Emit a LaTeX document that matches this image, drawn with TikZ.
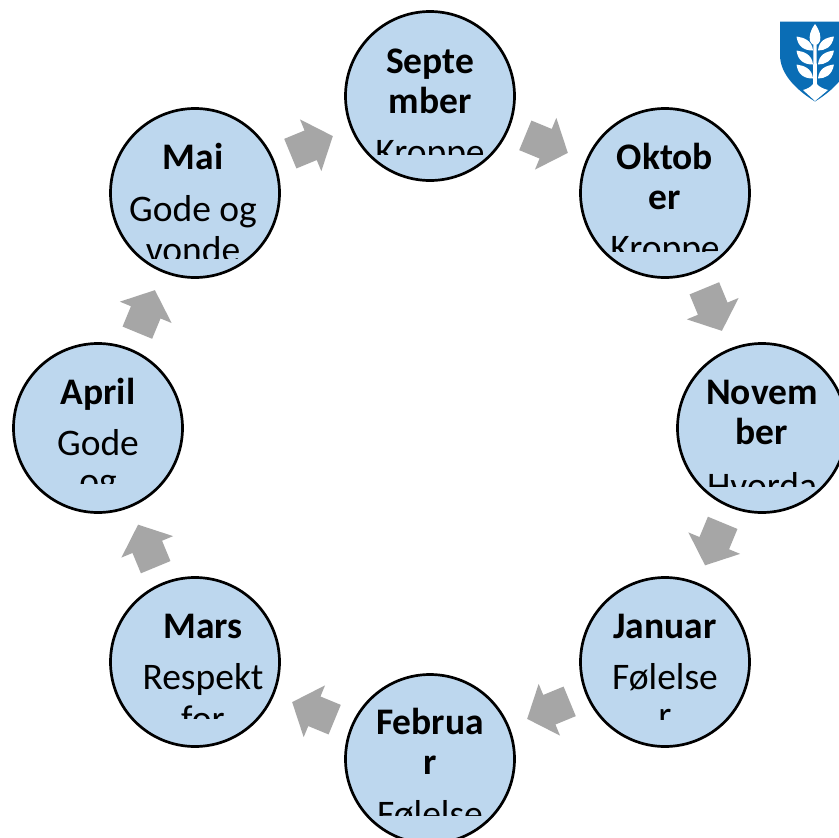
\documentclass[tikz,border=0pt]{standalone}
\usepackage{fontspec}
\setmainfont{Carlito}
\definecolor{circfill}{HTML}{BDD7EE}
\definecolor{arrowgray}{HTML}{A6A6A6}
\definecolor{shieldblue}{HTML}{0A6DB5}
\tikzset{
  month/.style={circle,draw=black,line width=2.7pt,fill=circfill,minimum size=169pt,inner sep=0pt,outer sep=0pt},
  head/.style={anchor=base,inner sep=0pt,font=\fontsize{37.5}{37.5}\selectfont\bfseries},
  body/.style={anchor=base,inner sep=0pt,font=\fontsize{37.5}{37.5}\selectfont},
  flow/.style={sloped,allow upside down,pos=0.5},
  flowarrow/.pic={\fill[arrowgray] (-24,-16) -- (-2,-16) -- (-2,-28) -- (22,0) -- (-2,28) -- (-2,16) -- (-24,16) -- cycle;},
  leaf/.style={fill=white,draw=none}
}
\begin{document}
\begin{tikzpicture}[x=1pt,y=-1pt]
\useasboundingbox (0,0) rectangle (839,838);
\fill[white] (0,0) rectangle (839,838);
% shield
\begin{scope}
\clip (0,0) rectangle (839,838);
\fill[shieldblue] (780,21.5) -- (850,21.5) -- (850,55) .. controls (850,75) and (832,91) .. (815,101.5) .. controls (798,91) and (780,75) .. (780,55) -- cycle;
\fill[leaf] (815,24) .. controls (810,31) and (809,36) .. (810,41) .. controls (811,44) and (813,45) .. (815,45) .. controls (817,45) and (819,44) .. (820,41) .. controls (821,36) and (820,31) .. (815,24) -- cycle;
\fill[leaf] (813.5,44) -- (816.5,44) -- (817,84) .. controls (819,87) and (824,89) .. (828,90) -- (815,101) -- (803,90) .. controls (807,89) and (811,87) .. (813,84) -- cycle;
\foreach \ly in {36.5,50.5,64.5}{
  \fill[leaf] (796.5,\ly) .. controls (804,\ly+1) and (812,\ly+4) .. (813,\ly+14) .. controls (805,\ly+14) and (798,\ly+11) .. (796.5,\ly) -- cycle;
  \fill[leaf] (834,\ly) .. controls (826,\ly+1) and (819,\ly+4) .. (818,\ly+14) .. controls (825,\ly+14) and (832,\ly+11) .. (834,\ly) -- cycle;
}
\end{scope}
% circles
\node[month] (sep) at (430,96) {};
\node[month] (okt) at (665,193) {};
\node[month] (nov) at (762,428) {};
\node[month] (jan) at (665,662) {};
\node[month] (feb) at (430,759) {};
\node[month] (mar) at (195,662) {};
\node[month] (apr) at (98,428) {};
\node[month] (mai) at (195,193) {};
% arrows
\path (sep) -- pic[flow] {flowarrow} (okt);
\path (okt) -- pic[flow] {flowarrow} (nov);
\path (nov) -- pic[flow] {flowarrow} (jan);
\path (jan) -- pic[flow] {flowarrow} (feb);
\path (feb) -- pic[flow] {flowarrow} (mar);
\path (mar) -- pic[flow] {flowarrow} (apr);
\path (apr) -- pic[flow] {flowarrow} (mai);
\path (mai) -- pic[flow] {flowarrow} (sep);
% labels
\begin{scope}
\clip (345,0) rectangle (515,154);
\node[head] (t1a) at (430,73) {Septe};
\node[head] (t1b) at (430,113) {mber};
\node[body] (t1c) at (430,164) {Kroppe};
\end{scope}
\begin{scope}
\clip (580,100) rectangle (750,251);
\node[head] (t2a) at (665,169) {Oktob};
\node[head] (t2b) at (665,209) {er};
\node[body] (t2c) at (665,260) {Kroppe};
\end{scope}
\begin{scope}
\clip (677,340) rectangle (839,486);
\node[head] (t3a) at (762,404) {Novem};
\node[head] (t3b) at (762,444) {ber};
\node[body] (t3c) at (762,498) {Hvorda};
\end{scope}
\begin{scope}
\clip (580,580) rectangle (750,719);
\node[head] (t4a) at (665,638) {Januar};
\node[body] (t4b) at (665,689) {Følelse};
\node[body] (t4c) at (665,727) {r};
\end{scope}
\begin{scope}
\clip (345,680) rectangle (515,815);
\node[head] (t5a) at (430,734) {Februa};
\node[head] (t5b) at (430,774) {r};
\node[body] (t5c) at (430,826) {Følelse};
\end{scope}
\begin{scope}
\clip (110,580) rectangle (280,718);
\node[head] (t6a) at (203,638) {Mars};
\node[body] (t6b) at (203,689) {Respekt};
\node[body] (t6c) at (203,731) {for};
\end{scope}
\begin{scope}
\clip (13,340) rectangle (183,483);
\node[head] (t7a) at (98,404) {April};
\node[body] (t7b) at (98,455) {Gode};
\node[body] (t7c) at (98,493) {og};
\end{scope}
\begin{scope}
\clip (110,100) rectangle (280,258);
\node[head] (t8a) at (193,169) {Mai};
\node[body] (t8b) at (193,221) {Gode og};
\node[body] (t8c) at (193,262) {vonde};
\end{scope}
\end{tikzpicture}
\end{document}
